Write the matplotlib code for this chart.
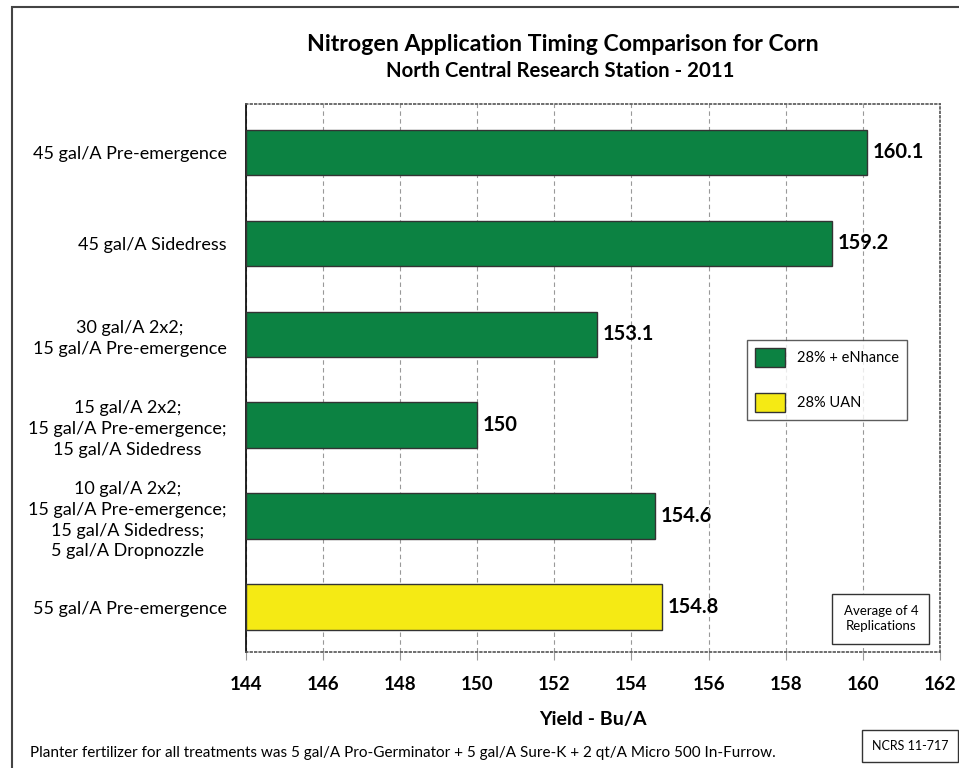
import matplotlib

matplotlib.use("Agg")
import matplotlib.pyplot as plt
from matplotlib.patches import Patch, Rectangle

plt.rcParams["font.family"] = ["Lato", "DejaVu Sans"]

# --- data ---------------------------------------------------------------------
treatments = [
    "45 gal/A Pre-emergence",
    "45 gal/A Sidedress",
    "30 gal/A 2x2;\n15 gal/A Pre-emergence",
    "15 gal/A 2x2;\n15 gal/A Pre-emergence;\n15 gal/A Sidedress",
    "10 gal/A 2x2;\n15 gal/A Pre-emergence;\n15 gal/A Sidedress;\n5 gal/A Dropnozzle",
    "55 gal/A Pre-emergence",
]
yields = [160.1, 159.2, 153.1, 150, 154.6, 154.8]
value_labels = ["160.1", "159.2", "153.1", "150", "154.6", "154.8"]
products = ["enh", "enh", "enh", "enh", "enh", "uan"]
legend_names = {"enh": "28% + eNhance", "uan": "28% UAN"}
xticks = [144, 146, 148, 150, 152, 154, 156, 158, 160, 162]

COLORS = {"enh": "#0c8242", "uan": "#f5ea14"}
X0 = 144

fig = plt.figure(figsize=(9.59, 7.68), dpi=100)
ax = fig.add_axes([0.2565, 0.151, 0.7235, 0.713])

pos = list(range(len(treatments)))
ax.barh(
    pos,
    [v - X0 for v in yields],
    left=X0,
    height=0.5,
    color=[COLORS[p] for p in products],
    edgecolor="#333333",
    linewidth=1.0,
    zorder=3,
)
for y, v, lab in zip(pos, yields, value_labels):
    ax.text(v + 0.15, y, lab, va="center", ha="left", fontsize=14.5,
            fontweight="bold", zorder=4)

ax.set_ylim(5.495, -0.528)
ax.set_xlim(144, 162)
ax.set_yticks(pos)
ax.set_yticklabels(treatments, fontsize=13)
ax.tick_params(axis="y", length=0, pad=14)
ax.set_xticks(xticks)
ax.set_xticklabels([str(t) for t in xticks], fontsize=13.5, fontweight="bold")
ax.tick_params(axis="x", length=6, color="#999999", direction="out", pad=11)
for lab in ax.get_yticklabels():
    lab.set_multialignment("center")
    lab.set_linespacing(1.38)

ax.grid(axis="x", color="#999999", linestyle=(0, (4, 3)), linewidth=0.8, zorder=0)
ax.set_axisbelow(True)
ax.spines["left"].set_color("black")
ax.spines["left"].set_linewidth(1.2)
for s in ("top", "right", "bottom"):
    ax.spines[s].set_linestyle(":")
    ax.spines[s].set_color("#555555")
    ax.spines[s].set_linewidth(1.2)

ax.set_xlabel("Yield - Bu/A", fontsize=14, fontweight="bold", labelpad=13)

handles = [Patch(facecolor=COLORS[k], edgecolor="#333333", label=legend_names[k])
           for k in ("enh", "uan")]
leg = ax.legend(handles=handles, loc="upper left", bbox_to_anchor=(0.722, 0.570),
                fontsize=10.5, frameon=True, fancybox=False, handlelength=2.05,
                handleheight=1.6, labelspacing=1.8, borderpad=0.55,
                handletextpad=0.8, borderaxespad=0)
leg.get_frame().set_edgecolor("#333333")
leg.get_frame().set_linewidth(1.0)

ax.text(0.915, 0.061, "Average of 4\nReplications", transform=ax.transAxes,
        ha="center", va="center", fontsize=9.5, linespacing=1.37,
        bbox=dict(boxstyle="square,pad=0.85", facecolor="white", edgecolor="#333333",
                  linewidth=1.0), zorder=5)

fig.text(0.587, 0.942, "Nitrogen Application Timing Comparison for Corn",
         ha="center", va="center", fontsize=16.7, fontweight="bold")
fig.text(0.584, 0.907, "North Central Research Station - 2011",
         ha="center", va="center", fontsize=14.7, fontweight="bold")

fig.text(0.031, 0.0195,
         "Planter fertilizer for all treatments was 5 gal/A Pro-Germinator + "
         "5 gal/A Sure-K + 2 qt/A Micro 500 In-Furrow.",
         ha="left", va="center", fontsize=11)
fig.text(0.949, 0.0286, "NCRS 11-717", ha="center", va="center", fontsize=9,
         bbox=dict(boxstyle="square,pad=0.8", facecolor="white", edgecolor="#333333",
                   linewidth=1.0))

fig.patches.append(Rectangle((0.0125, -0.01), 1.0, 1.001, transform=fig.transFigure,
                             fill=False, edgecolor="#444444", linewidth=1.5))

fig.savefig("out.png", dpi=100)
